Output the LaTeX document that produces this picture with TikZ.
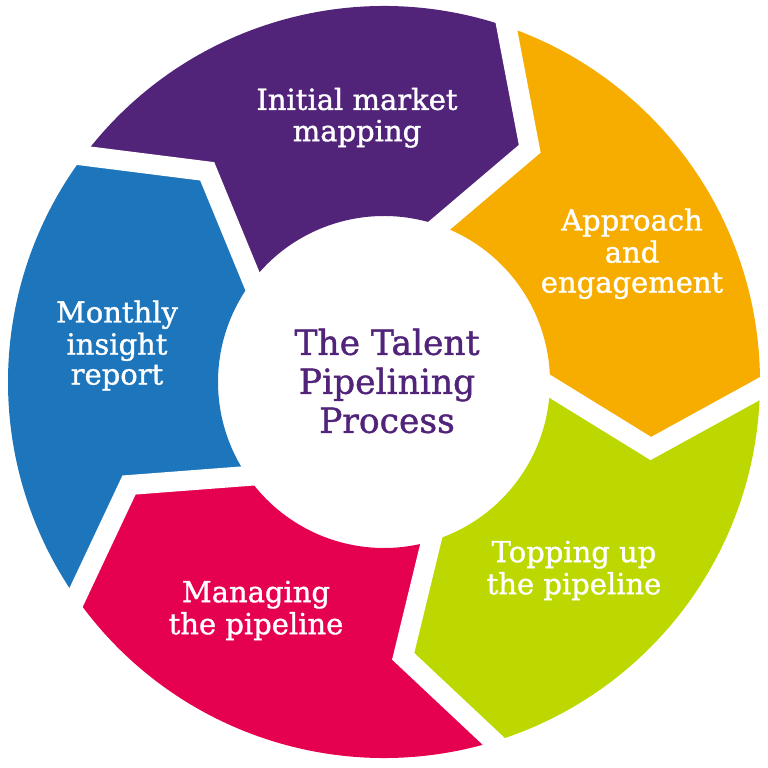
\documentclass[tikz,border=0pt]{standalone}
\usepackage{fontspec}
\usetikzlibrary{calc}
\newfontfamily\labelfont[FakeBold=1.2]{DejaVu Serif}
\definecolor{cpurple}{RGB}{81,36,122}
\definecolor{corange}{RGB}{246,173,0}
\definecolor{cgreen}{RGB}{188,216,0}
\definecolor{cpink}{RGB}{230,0,80}
\definecolor{cblue}{RGB}{29,117,188}
\tikzset{
  seglabel/.style={text=white, align=center, inner sep=0pt,
    font=\labelfont\fontsize{29}{30}\selectfont},
  centerlabel/.style={text=cpurple, align=center, inner sep=0pt,
    font=\labelfont\fontsize{34.5}{39}\selectfont},
  gap/.style={white, line width=20pt, line join=miter, miter limit=10}
}
\begin{document}
\begin{tikzpicture}[x=1pt,y=1pt]
\useasboundingbox (-384,-386) rectangle (384,382);
\def\Ro{376}
\def\Ri{166}
\def\Rm{275}
% segments
\foreach \s/\e/\c in {143/71/cpurple, 71/-1/corange, -1/-73/cgreen, -73/-145/cpink, -145/-217/cblue}{
  \fill[\c] (\s:\Ro) arc[start angle=\s, end angle=\e, radius=\Ro]
    -- ({\e-13}:\Rm) -- ({\e-0.5}:\Ri)
    arc[start angle={\e-0.5}, end angle={\s-0.5}, radius=\Ri]
    -- ({\s-13}:\Rm) -- cycle;
}
% white gaps
\foreach \a in {71,-1,-73,-145,-217}{
  \coordinate (t) at ({\a-13}:\Rm);
  \draw[gap] ($(t)!1.3!(\a:\Ro)$) -- (t) -- ($(t)!1.4!({\a-0.5}:\Ri)$);
}
% labels
\node[seglabel] (initial) at (-27,263) {\strut Initial market\\\strut mapping};
\node[seglabel] (approach) at (248,127) {\strut Approach\\\strut and\\\strut engagement};
\node[seglabel] (topping) at (190,-190) {\strut Topping up\\\strut the pipeline};
\node[seglabel] (managing) at (-128,-230) {\strut Managing\\\strut the pipeline};
\node[seglabel] (monthly) at (-267,35) {\strut Monthly\\\strut insight\\\strut report};
\node[centerlabel] (title) at (3,-4) {\strut The Talent\\\strut Pipelining\\\strut Process};
\end{tikzpicture}
\end{document}
